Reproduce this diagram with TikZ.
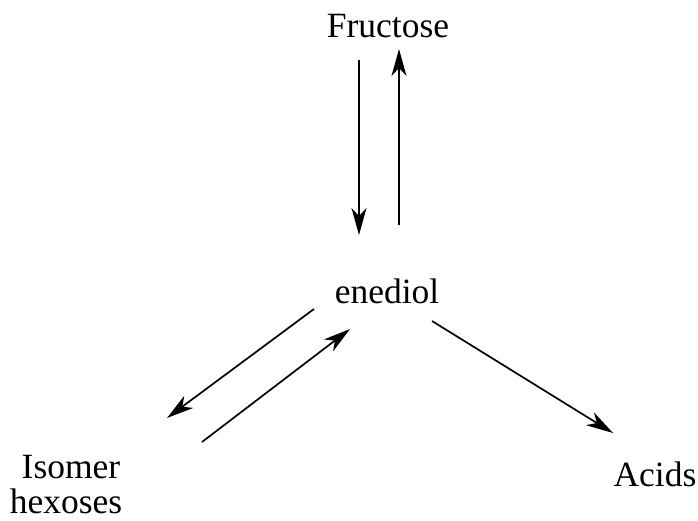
\documentclass[tikz,border=0pt]{standalone}
\usepackage{fontspec}
\setmainfont{Liberation Serif}
\usetikzlibrary{arrows.meta}
\begin{document}
\begin{tikzpicture}[x=1pt,y=-1pt,
  lbl/.style={inner sep=0pt,anchor=base,font=\fontsize{35.5}{40}\selectfont},
  arr/.style={line width=1.7pt,-{Stealth[length=27pt,width=15pt,inset=8pt]}}]
\useasboundingbox (0,0) rectangle (698,520);
\node[lbl] (fru) at (388,37) {Fructose};
\node[lbl] (ene) at (387,303) {enediol};
\node[lbl] (iso) at (71,478) {Isomer};
\node[lbl] (hex) at (66,513) {hexoses};
\node[lbl] (aci) at (655,486) {Acids};
\coordinate (a1) at (359,60);
\coordinate (a2) at (359,235);
\coordinate (b1) at (399,225);
\coordinate (b2) at (399,49);
\coordinate (c1) at (314,309);
\coordinate (c2) at (167,418);
\coordinate (d1) at (202,442);
\coordinate (d2) at (350,329);
\coordinate (e1) at (432,321);
\coordinate (e2) at (613,433);
\draw[arr] (a1) -- (a2);
\draw[arr] (b1) -- (b2);
\draw[arr] (c1) -- (c2);
\draw[arr] (d1) -- (d2);
\draw[arr] (e1) -- (e2);
\end{tikzpicture}
\end{document}
